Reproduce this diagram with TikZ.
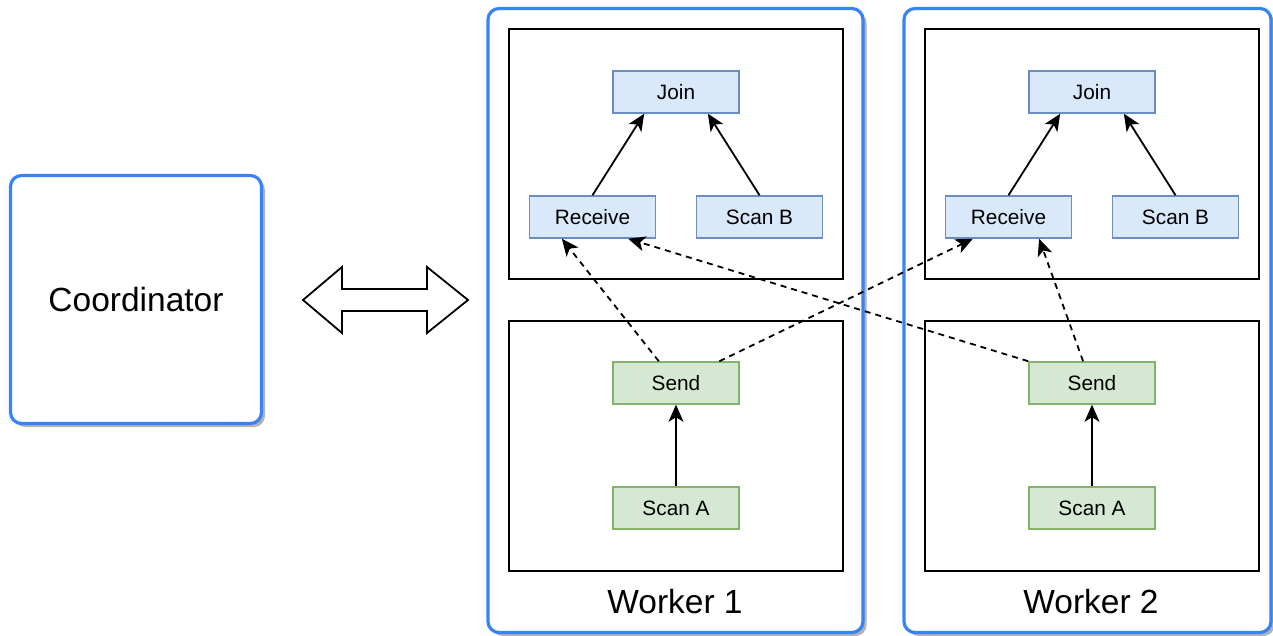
\documentclass[tikz,border=0pt]{standalone}
\usepackage{fontspec}
\setmainfont{Liberation Sans}
\usetikzlibrary{arrows.meta,calc,shadows}
\definecolor{wblue}{HTML}{3884F6}
\definecolor{bfill}{HTML}{DAE8FC}
\definecolor{bstroke}{HTML}{6C8EBF}
\definecolor{gfill}{HTML}{D5E8D4}
\definecolor{gstroke}{HTML}{82B366}
\begin{document}
\begin{tikzpicture}[x=1pt,y=-1pt,
  op/.style={draw, line width=1.5pt, minimum width=126pt, minimum height=42pt, inner sep=0pt, font=\fontsize{20.8}{24}\selectfont},
  opb/.style={op, draw=bstroke, fill=bfill},
  opg/.style={op, draw=gstroke, fill=gfill},
  frame/.style={draw=black, line width=1.8pt, minimum width=334pt, minimum height=250pt, inner sep=0pt},
  outer/.style={draw=wblue, line width=3.2pt, rounded corners=11pt, fill=white, inner sep=0pt,
    drop shadow={shadow xshift=3.5pt, shadow yshift=-3.5pt, fill=black, opacity=0.3}},
  big/.style={font=\fontsize{33.5}{40}\selectfont},
  flow/.style={line width=1.8pt, -{Stealth[length=17pt,width=15pt,inset=4.5pt]}},
  dflow/.style={flow, dash pattern=on 6pt off 5pt}
]
\useasboundingbox (0,0) rectangle (1273,636);
\fill[white] (0,0) rectangle (1273,636);

% coordinator
\node[outer, minimum width=251pt, minimum height=248pt, big] (coord) at (136,299.5) {Coordinator};

% double arrow
\draw[line width=1.8pt, line join=miter, fill=white]
  (303,300) -- (342,267) -- (342,289) -- (427,289) -- (427,267) -- (468,300)
  -- (427,333) -- (427,311) -- (342,311) -- (342,333) -- cycle;

% worker boxes
\node[outer, minimum width=375pt, minimum height=624pt] (w1) at (675.5,320.5) {};
\node[outer, minimum width=367pt, minimum height=624pt] (w2) at (1087.5,320.5) {};
\node[big] (w1lab) at (675,602) {Worker 1};
\node[big] (w2lab) at (1091,602) {Worker 2};

% frames
\node[frame] (top1) at (676,154) {};
\node[frame] (bot1) at (676,446) {};
\node[frame] (top2) at (1092,154) {};
\node[frame] (bot2) at (1092,446) {};

% operators worker 1
\node[opb] (join1) at (676,92) {Join};
\node[opb] (recv1) at (592.5,217) {Receive};
\node[opb] (scanb1) at (759.5,217) {Scan B};
\node[opg] (send1) at (676,383) {Send};
\node[opg] (scana1) at (676,508) {Scan A};

% operators worker 2
\node[opb] (join2) at (1092,92) {Join};
\node[opb] (recv2) at (1008.5,217) {Receive};
\node[opb] (scanb2) at (1175.5,217) {Scan B};
\node[opg] (send2) at (1092,383) {Send};
\node[opg] (scana2) at (1092,508) {Scan A};

% solid arrows
\draw[flow] (recv1.north) -- ($(join1.south west)!0.25!(join1.south east)$);
\draw[flow] (scanb1.north) -- ($(join1.south west)!0.75!(join1.south east)$);
\draw[flow] (scana1.north) -- (send1.south);
\draw[flow] (recv2.north) -- ($(join2.south west)!0.25!(join2.south east)$);
\draw[flow] (scanb2.north) -- ($(join2.south west)!0.75!(join2.south east)$);
\draw[flow] (scana2.north) -- (send2.south);

% dashed exchanges
\draw[dflow] ($(send1.north west)!0.365!(send1.north east)$) -- ($(recv1.south west)!0.26!(recv1.south east)$);
\draw[dflow] ($(send1.north west)!0.84!(send1.north east)$) -- ($(recv2.south west)!0.22!(recv2.south east)$);
\draw[dflow] (send2.north west) -- ($(recv1.south west)!0.78!(recv1.south east)$);
\draw[dflow] ($(send2.north west)!0.43!(send2.north east)$) -- ($(recv2.south west)!0.74!(recv2.south east)$);
\end{tikzpicture}
\end{document}
